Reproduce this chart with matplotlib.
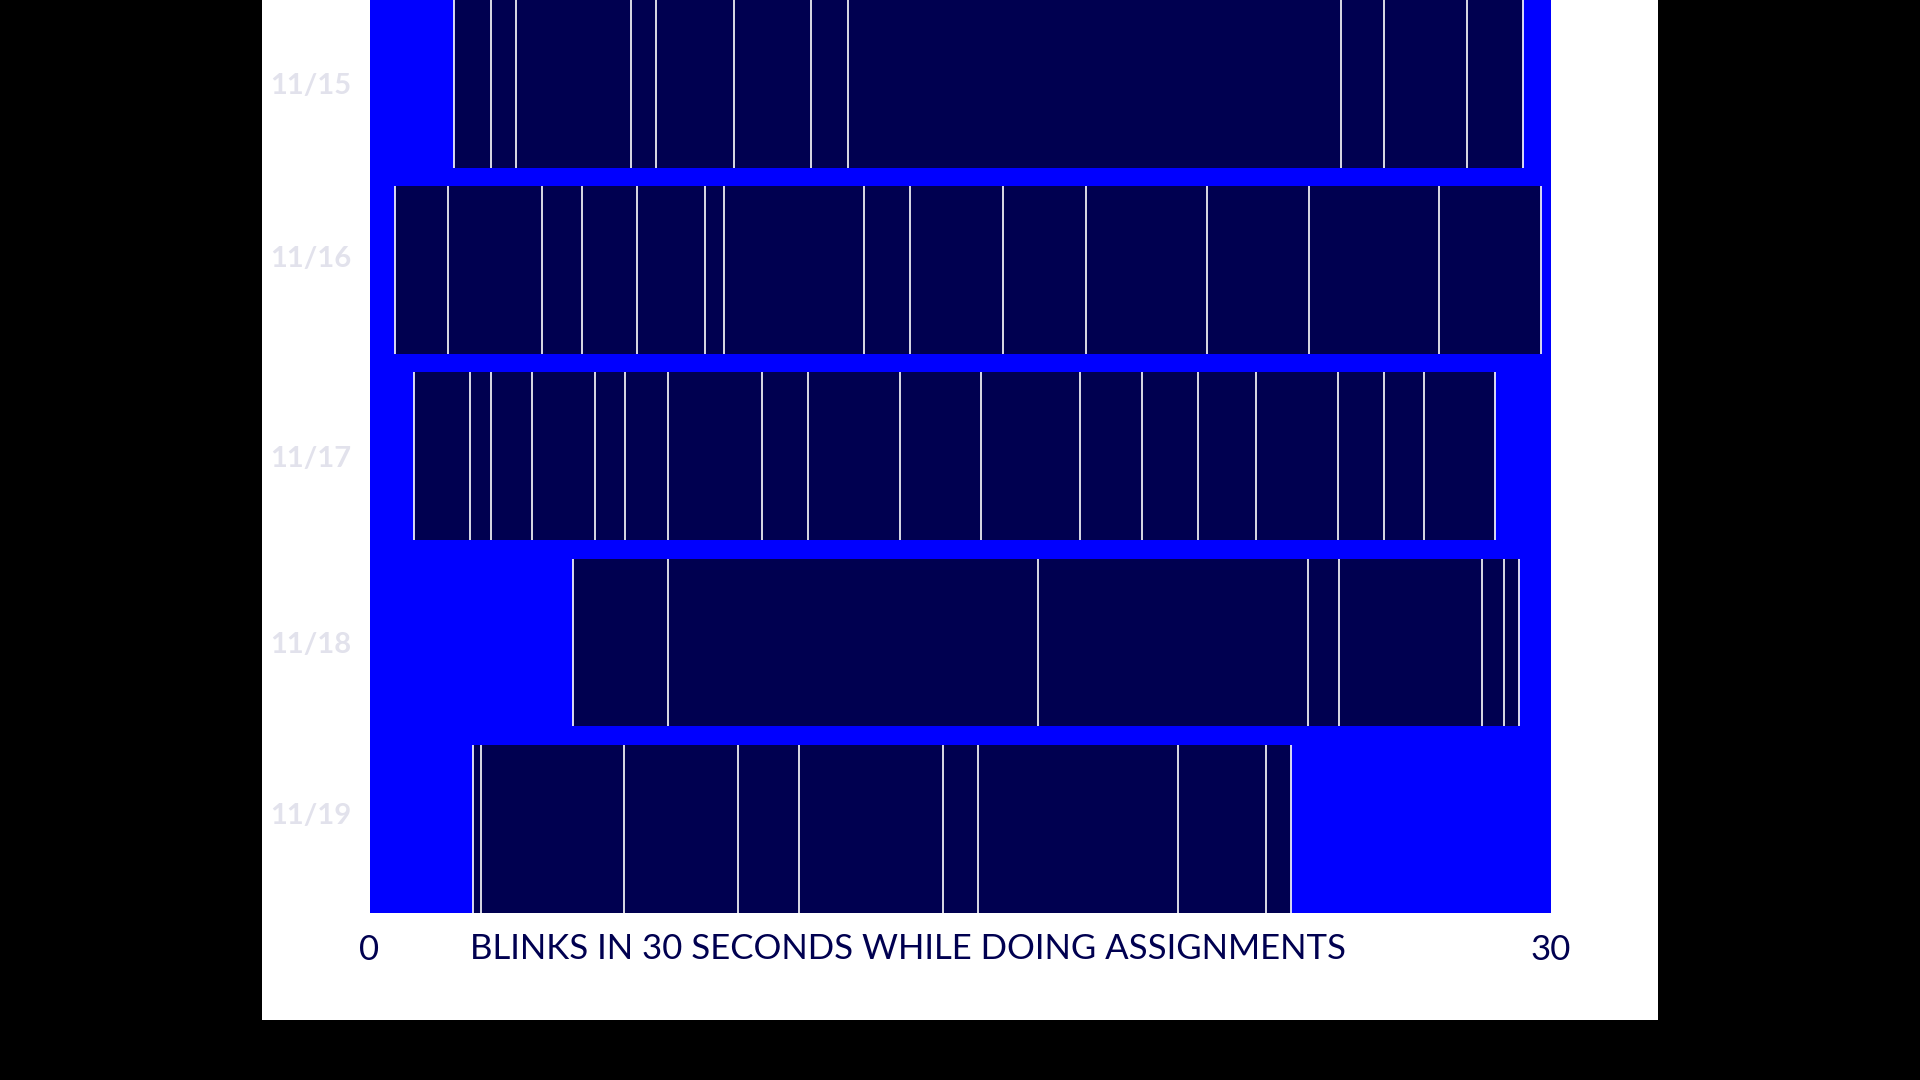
import matplotlib
matplotlib.use('Agg')
import matplotlib.pyplot as plt
from matplotlib.patches import Rectangle

# blink times (seconds) for each day
days = ['11/15', '11/16', '11/17', '11/18', '11/19']
blinks_1115 = [2.15, 3.09, 3.73, 6.65, 7.27, 9.25, 11.21, 12.15, 24.67, 25.76, 27.88, 29.31]
blinks_1116 = [0.66, 2.00, 4.37, 5.39, 6.80, 8.53, 9.01, 12.56, 13.73, 16.08, 18.21,
               21.27, 23.86, 27.18, 29.77]
blinks_1117 = [1.13, 2.56, 3.09, 4.12, 5.72, 6.50, 7.58, 9.96, 11.13, 13.48, 15.53,
               18.05, 19.63, 21.05, 22.53, 24.59, 25.77, 26.78, 28.60]
blinks_1118 = [5.17, 7.59, 16.99, 23.85, 24.63, 28.27, 28.82, 29.19]
blinks_1119 = [2.64, 2.82, 6.46, 9.35, 10.91, 14.57, 15.46, 20.54, 22.78, 23.42]
all_blinks = [blinks_1115, blinks_1116, blinks_1117, blinks_1118, blinks_1119]
duration = 30
xlabel = 'BLINKS IN 30 SECONDS WHILE DOING ASSIGNMENTS'

navy = '#000050'
blue = '#0000ff'
grey = '#e2e2ec'
font = ['Lato', 'DejaVu Sans']
plt.rcParams['font.family'] = font

# the day labels in the original are not all centred on their rows
label_nudge = [0.0, 0.07, 0.0, 0.0, 0.08]

fig = plt.figure(figsize=(19.2, 10.8), dpi=100, facecolor='black')
# white card behind the chart
card = Rectangle((262 / 1920, 60 / 1080), 1396 / 1920, 1020 / 1080,
                 transform=fig.transFigure, facecolor='white',
                 edgecolor='none', zorder=-10)
fig.add_artist(card)

ax = fig.add_axes([369.5 / 1920, 167.5 / 1080, 1181 / 1920, 912.5 / 1080])
ax.set_facecolor(blue)

n = len(days)
bar_h = 0.9
for i, (day, times) in enumerate(zip(days, all_blinks)):
    row = n - 1 - i
    ax.barh(row, max(times) - min(times), left=min(times), height=bar_h,
            align='edge', color=navy, edgecolor='none')
    ax.vlines(times, row, row + bar_h, colors='white', linewidth=1.2)

ax.set_xlim(0, duration)
ax.set_ylim(0, n - 1 + bar_h)

ax.set_xticks([0, duration])
ax.set_xticklabels(['0', str(duration)], fontsize=25, color=navy)
ax.set_yticks([n - 1 - i + bar_h / 2 + label_nudge[i] for i in range(n)])
ax.set_yticklabels(days, fontsize=21, color=grey, fontweight='bold')
ax.tick_params(axis='x', length=0, pad=15.5)
ax.tick_params(axis='y', length=0, pad=13)
for s in ax.spines.values():
    s.set_visible(False)

ax.text(0.0852, -0.0405, xlabel, transform=ax.transAxes, fontsize=25,
        color=navy, ha='left', va='center')

fig.savefig('out.png', dpi=100, facecolor='black')
